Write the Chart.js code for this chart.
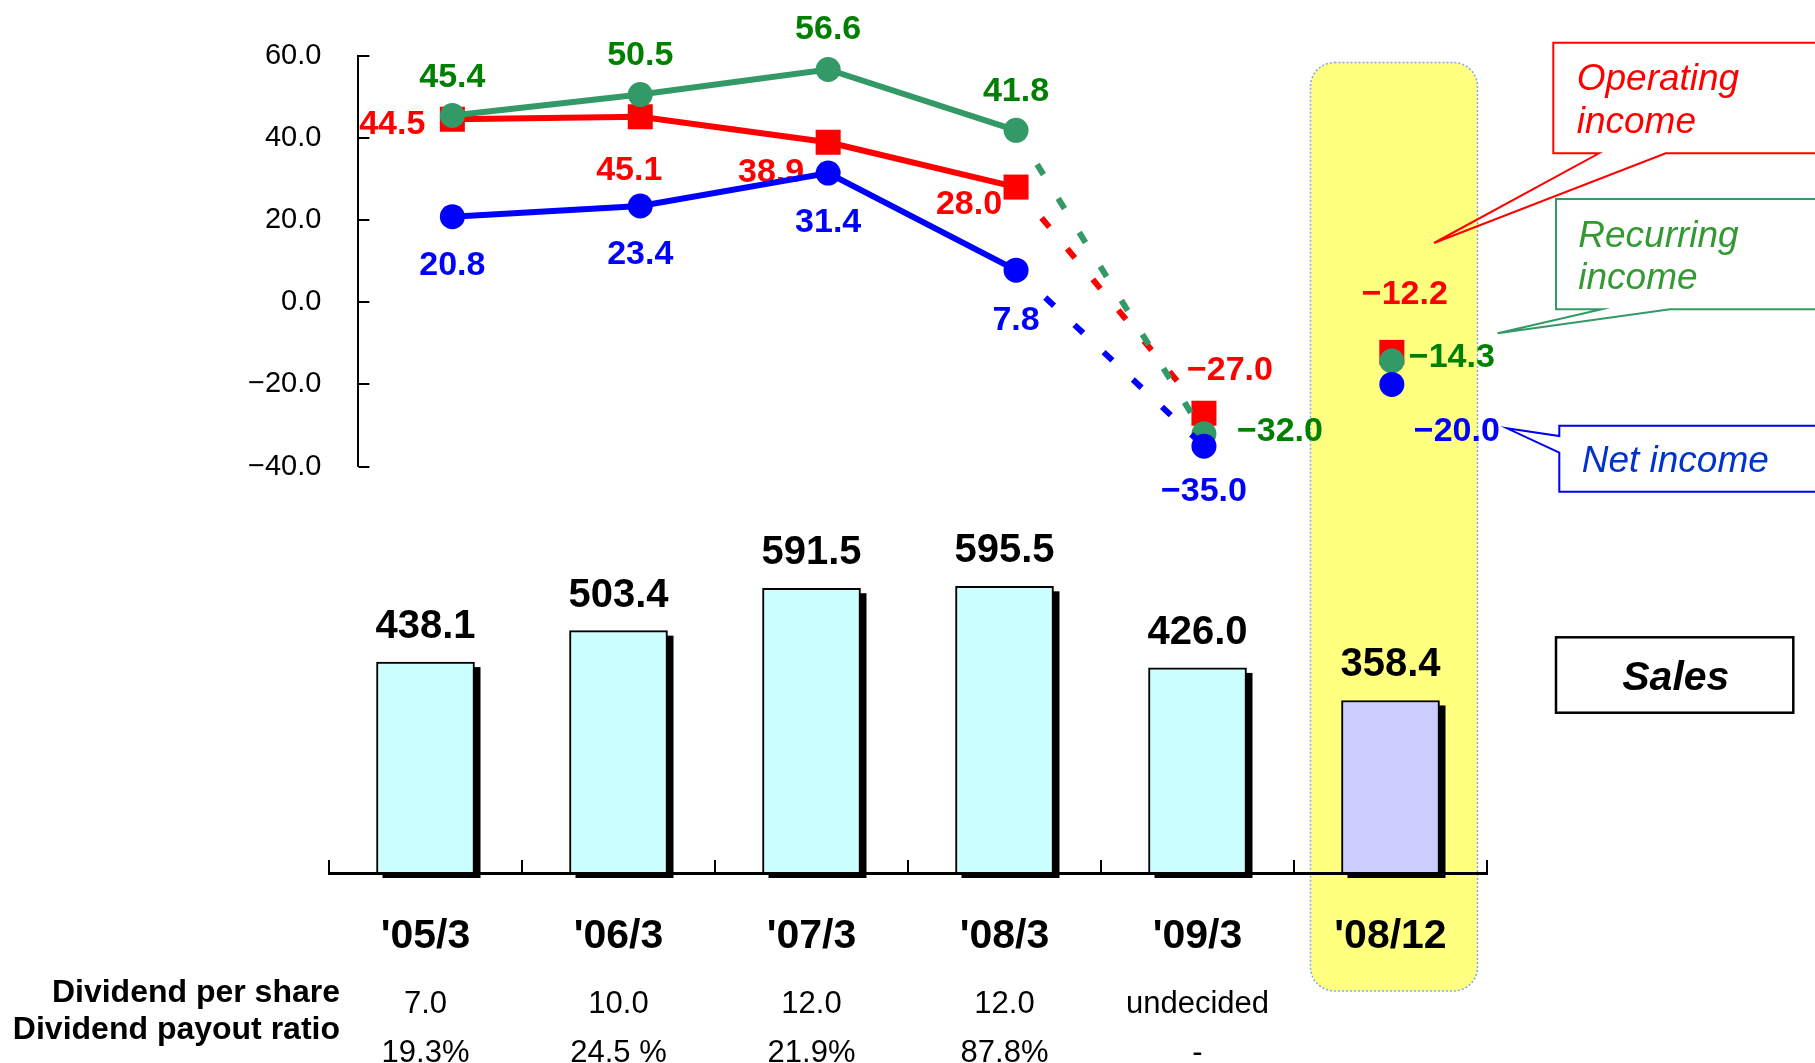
<!DOCTYPE html>
<html>
<head>
<meta charset="utf-8">
<script src="https://cdn.jsdelivr.net/npm/chart.js@4.4.1/dist/chart.umd.min.js"></script>
<style>
  html, body { margin: 0; padding: 0; background: #ffffff; }
  #wrap { position: relative; width: 1815px; height: 1063px; overflow: hidden; }
  #wrap canvas { position: absolute; left: 0; top: 0; }
</style>
</head>
<body>
<div id="wrap">
  <canvas id="income" width="1815" height="1063"></canvas>
  <canvas id="sales" width="1815" height="1063"></canvas>
</div>
<script>
// ---- figures (billion yen) ----
const periods = ["'05/3", "'06/3", "'07/3", "'08/3", "'09/3", "'08/12"];
const operatingIncome = [44.5, 45.1, 38.9, 28.0, -27.0, -12.2];
const recurringIncome = [45.4, 50.5, 56.6, 41.8, -32.0, -14.3];
const netIncome = [20.8, 23.4, 31.4, 7.8, -35.0, -20.0];
const sales = [438.1, 503.4, 591.5, 595.5, 426.0, 358.4];
const dividendPerShare = ['7.0', '10.0', '12.0', '12.0', 'undecided', ''];
const payoutRatio = ['19.3%', '24.5 %', '21.9%', '87.8%', '-', ''];
const incomeTicks = [-40, -20, 0, 20, 40, 60];

// where each value label sits relative to its point: [dx, dy, align]
const placeNet = [[0, 46, 'center'], [0, 46, 'center'], [0, 47, 'center'], [0, 47.4, 'center'], [0, 43, 'center'], [22, 44.4, 'left']];
const placeRecurring = [[0, -41, 'center'], [0, -41.3, 'center'], [0, -43, 'center'], [0, -42, 'center'], [33, -5, 'left'], [17, -6.5, 'left']];
const placeOperating = [[-27, 2.5, 'right'], [-11, 51, 'center'], [-24, 28, 'right'], [-14, 14.6, 'right'], [26, -45.7, 'center'], [13, -61, 'center']];

const FONT = '"Liberation Sans", Arial, Helvetica, sans-serif';
const fmt = v => v.toFixed(1).replace('-', '\u2212');

// actual results are solid, the forecast leg is dotted, the half-year point stands alone
const segmentStyle = {
  borderDash: ctx => ctx.p0DataIndex === 3 ? [12, 28] : undefined,
  borderColor: ctx => ctx.p0DataIndex === 4 ? 'rgba(0,0,0,0)' : undefined
};

const incomeDecor = {
  id: 'incomeDecor',
  beforeDraw(chart) {
    const ctx = chart.ctx;
    // highlighted half-year column
    ctx.save();
    const x = 1310.5, y = 62.5, w = 167, h = 928.5, r = 24;
    ctx.beginPath();
    ctx.roundRect(x, y, w, h, r);
    ctx.fillStyle = '#FFFF80';
    ctx.fill();
    ctx.setLineDash([2, 2]);
    ctx.lineWidth = 1.5;
    ctx.strokeStyle = '#7FA6EE';
    ctx.stroke();
    ctx.restore();
  },
  beforeDatasetsDraw(chart) {
    const ctx = chart.ctx;
    const ys = chart.scales.y;
    const area = chart.chartArea;
    ctx.save();
    // inward tick marks on the value axis
    ctx.strokeStyle = '#000';
    ctx.lineWidth = 2;
    ys.ticks.forEach((t, i) => {
      const py = Math.round(ys.getPixelForTick(i));
      ctx.beginPath();
      ctx.moveTo(area.left, py);
      ctx.lineTo(area.left + 11, py);
      ctx.stroke();
    });
    // value labels
    const size = 34;
    ctx.font = 'bold ' + size + 'px ' + FONT;
    ctx.textBaseline = 'alphabetic';
    const sets = [
      { d: 0, vals: netIncome, place: placeNet, color: '#0000FF' },
      { d: 1, vals: recurringIncome, place: placeRecurring, color: '#008000' },
      { d: 2, vals: operatingIncome, place: placeOperating, color: '#FF0000' }
    ];
    sets.forEach(s => {
      const meta = chart.getDatasetMeta(s.d);
      meta.data.forEach((pt, i) => {
        const [dx, dy, align] = s.place[i];
        ctx.fillStyle = s.color;
        ctx.textAlign = align;
        ctx.fillText(fmt(s.vals[i]), pt.x + dx, pt.y + dy + size * 0.358);
      });
    });
    ctx.restore();
  },
  afterDraw(chart) {
    const ctx = chart.ctx;
    ctx.save();
    const shape = (pts, color) => {
      ctx.beginPath();
      pts.forEach(([px, py], i) => i ? ctx.lineTo(px, py) : ctx.moveTo(px, py));
      ctx.closePath();
      ctx.strokeStyle = color;
      ctx.lineWidth = 2;
      ctx.stroke();
    };
    shape([[1553.3, 42.7], [1830, 42.7], [1830, 153.3], [1665.7, 153.3], [1434, 243], [1599, 153.3], [1553.3, 153.3]], '#FF0000');
    shape([[1556, 199], [1830, 199], [1830, 309.3], [1670, 309.3], [1497.6, 333.3], [1601.7, 309.3], [1556, 309.3]], '#339966');
    shape([[1559.3, 425.7], [1830, 425.7], [1830, 491.7], [1559.3, 491.7], [1559.3, 452.7], [1507, 428.3], [1559.3, 436]], '#0000EE');
    ctx.font = 'italic 37px ' + FONT;
    ctx.textAlign = 'left';
    ctx.textBaseline = 'alphabetic';
    ctx.fillStyle = '#FF0000';
    ctx.fillText('Operating', 1576.7, 90);
    ctx.fillText('income', 1576.7, 132.7);
    ctx.fillStyle = '#339933';
    ctx.fillText('Recurring', 1578.3, 246.7);
    ctx.fillText('income', 1578.3, 289.3);
    ctx.fillStyle = '#0033CC';
    ctx.fillText('Net income', 1581.7, 471.7);
    ctx.restore();
  }
};

new Chart(document.getElementById('income'), {
  type: 'line',
  data: {
    labels: periods,
    datasets: [
      {
        label: 'Net income', data: netIncome,
        borderColor: '#0000FF', pointBackgroundColor: '#0000FF',
        pointStyle: 'circle', pointRadius: 12.5, pointBorderWidth: 0,
        borderWidth: 6, tension: 0, clip: false, segment: segmentStyle
      },
      {
        label: 'Recurring income', data: recurringIncome,
        borderColor: '#339966', pointBackgroundColor: '#339966',
        pointStyle: 'circle', pointRadius: 12.5, pointBorderWidth: 0,
        borderWidth: 6, tension: 0, clip: false, segment: segmentStyle
      },
      {
        label: 'Operating income', data: operatingIncome,
        borderColor: '#FF0000', pointBackgroundColor: '#FF0000',
        pointStyle: 'rect', pointRadius: 17.7, pointBorderWidth: 0,
        borderWidth: 6, tension: 0, clip: false, segment: segmentStyle
      }
    ]
  },
  options: {
    responsive: false,
    animation: false,
    devicePixelRatio: 1,
    layout: { padding: { left: 0, top: 55.5, right: 329.2, bottom: 596.3 } },
    plugins: { legend: { display: false }, tooltip: { enabled: false } },
    scales: {
      x: { display: false, offset: true },
      y: {
        min: incomeTicks[0],
        max: incomeTicks[incomeTicks.length - 1],
        afterBuildTicks: s => { s.ticks = incomeTicks.map(v => ({ value: v })); },
        afterFit: s => { s.width = 358.4; },
        grid: { drawOnChartArea: false, drawTicks: false },
        border: { color: '#000', width: 2 },
        ticks: {
          padding: 37,
          color: '#000',
          font: { family: FONT, size: 29 },
          callback: v => fmt(v)
        }
      }
    }
  },
  plugins: [incomeDecor]
});

const salesDecor = {
  id: 'salesDecor',
  beforeDatasetsDraw(chart) {
    // drop shadow behind each bar
    const ctx = chart.ctx;
    ctx.save();
    ctx.fillStyle = '#000';
    chart.getDatasetMeta(0).data.forEach(bar => {
      const { x, y, base, width } = bar.getProps(['x', 'y', 'base', 'width'], true);
      ctx.fillRect(x - width / 2 + 6, y + 5, width, base - y);
    });
    ctx.restore();
  },
  afterDraw(chart) {
    const ctx = chart.ctx;
    const xs = chart.scales.x;
    const area = chart.chartArea;
    ctx.save();
    // upward ticks between periods
    ctx.strokeStyle = '#000';
    ctx.lineWidth = 2;
    const n = periods.length;
    for (let i = 0; i <= n; i++) {
      const px = Math.round(xs.left + i * xs.width / n);
      ctx.beginPath();
      ctx.moveTo(px, area.bottom);
      ctx.lineTo(px, area.bottom - 13);
      ctx.stroke();
    }
    ctx.fillStyle = '#000';
    ctx.textBaseline = 'alphabetic';
    ctx.textAlign = 'center';
    // sales values above bars
    ctx.font = 'bold 40px ' + FONT;
    chart.getDatasetMeta(0).data.forEach((bar, i) => {
      ctx.fillText(sales[i].toFixed(1), bar.x, bar.y - 24);
    });
    // period labels
    ctx.font = 'bold 41px ' + FONT;
    periods.forEach((p, i) => ctx.fillText(p, xs.getPixelForValue(i), 948));
    // dividend rows
    ctx.font = 'bold 32px ' + FONT;
    ctx.textAlign = 'right';
    ctx.fillText('Dividend per share', 340, 1002);
    ctx.fillText('Dividend payout ratio', 340, 1038.5);
    ctx.font = '31px ' + FONT;
    ctx.textAlign = 'center';
    periods.forEach((p, i) => {
      const px = xs.getPixelForValue(i);
      if (dividendPerShare[i]) ctx.fillText(dividendPerShare[i], px, 1013);
      if (payoutRatio[i]) ctx.fillText(payoutRatio[i], px, 1062);
    });
    // series caption
    ctx.lineWidth = 2.5;
    ctx.strokeRect(1556, 637.3, 237.3, 75.4);
    ctx.font = 'italic bold 41px ' + FONT;
    ctx.fillText('Sales', 1675.8, 690);
    ctx.restore();
  }
};

new Chart(document.getElementById('sales'), {
  type: 'bar',
  data: {
    labels: periods,
    datasets: [{
      label: 'Sales',
      data: sales,
      backgroundColor: ctx => ctx.dataIndex === periods.length - 1 ? '#CCCCFF' : '#CCFFFF',
      borderColor: '#000',
      borderWidth: 2,
      borderSkipped: 'start',
      barThickness: 98
    }]
  },
  options: {
    responsive: false,
    animation: false,
    devicePixelRatio: 1,
    layout: { padding: { left: 329, right: 328, top: 536, bottom: 190 } },
    plugins: { legend: { display: false }, tooltip: { enabled: false } },
    scales: {
      x: {
        display: true,
        offset: true,
        grid: { drawOnChartArea: false, drawTicks: false },
        ticks: { display: false },
        border: { color: '#000', width: 3, z: 1 }
      },
      y: { display: false, min: 0, max: 700 }
    }
  },
  plugins: [salesDecor]
});
</script>
</body>
</html>
